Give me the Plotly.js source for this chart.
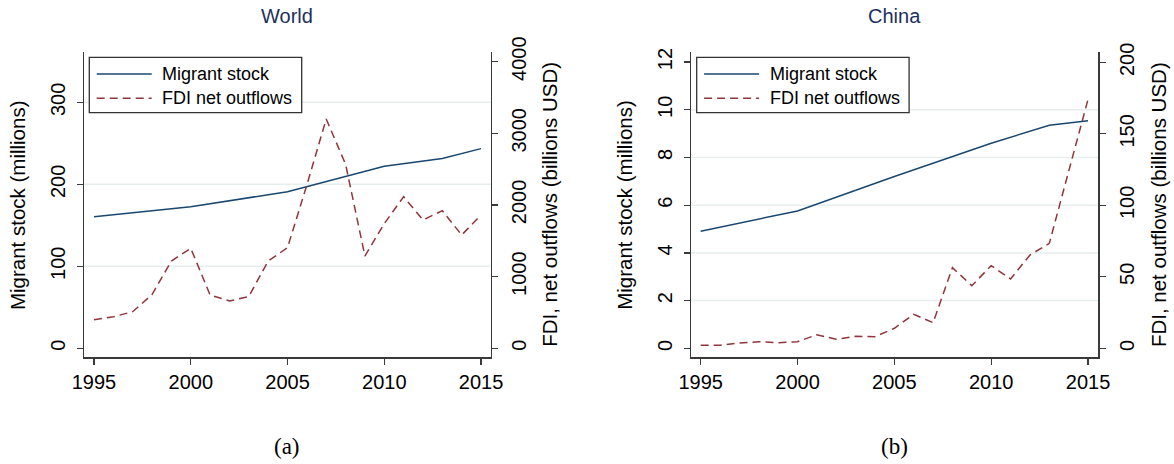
<!DOCTYPE html>
<html>
<head>
<meta charset="utf-8">
<script src="https://cdn.plot.ly/plotly-3.0.1.min.js"></script>
<style>
  html, body { margin: 0; padding: 0; background: #ffffff; }
  #chart { width: 1174px; height: 464px; }
</style>
</head>
<body>
<div id="chart"></div>
<script>
// ---------------- data ----------------
const migrantYears = [1995, 2000, 2005, 2010, 2013, 2015];
const worldMigrant = [160.5, 172.5, 191, 222, 231.5, 243.5];
const chinaMigrant = [4.91, 5.76, 7.2, 8.6, 9.35, 9.54];

const fdiYears = [1995, 1996, 1997, 1998, 1999, 2000, 2001, 2002, 2003, 2004, 2005,
                  2006, 2007, 2008, 2009, 2010, 2011, 2012, 2013, 2014, 2015];
const worldFDI = [400, 440, 511, 750, 1218, 1396, 744, 660, 723, 1218, 1404,
                  2280, 3200, 2570, 1288, 1740, 2116, 1791, 1921, 1581, 1860];
const chinaFDI = [2.1, 2.1, 3.7, 4.6, 3.9, 4.6, 9.5, 6.3, 8.4, 8.1, 14.0,
                  23.8, 17.9, 56.4, 43.8, 57.8, 48.5, 65.2, 73.4, 123.8, 174.1];

const xTicks = [1995, 2000, 2005, 2010, 2015];
const worldLeftTicks = [0, 100, 200, 300];
const worldRightTicks = [0, 1000, 2000, 3000, 4000];
const chinaLeftTicks = [0, 2, 4, 6, 8, 10, 12];
const chinaRightTicks = [0, 50, 100, 150, 200];
const worldGrid = [100, 200, 300];
const chinaGrid = [2, 4, 6, 8, 10];

const seriesNames = ['Migrant stock', 'FDI net outflows'];
const panelTitles = ['World', 'China'];
const captions = ['(a)', '(b)'];
const leftTitle = 'Migrant stock (millions)';
const rightTitle = 'FDI, net outflows (billions USD)';

// ---------------- style ----------------
const W = 1174, H = 464;
const FONT = 'Liberation Sans, Arial, Helvetica, sans-serif';
const NAVY = '#1a476f', MAROON = '#90353b';
const AX = '#3a3a3a';
const GRID = '#e6eeee';
const DASH = '8px,5px';

const px = v => v / W;
const py = v => 1 - v / H;

const plotTop = 52.3, plotBot = 357.3;
const yDom = [py(plotBot), py(plotTop)];
const p1 = [84, 490.7], p2 = [691, 1098.3];

function yAxis(extra) {
  return Object.assign({
    domain: yDom, showgrid: false, zeroline: false,
    showline: true, linecolor: AX, linewidth: 1.3,
    ticks: 'outside', ticklen: 6, tickwidth: 1.3, tickcolor: AX,
    tickangle: -90, tickfont: {family: FONT, size: 20, color: '#000'},
    automargin: false, fixedrange: true, ticklabelstandoff: 4
  }, extra);
}
function xAxis(extra) {
  return Object.assign({
    showgrid: false, zeroline: false,
    showline: true, linecolor: AX, linewidth: 1.3,
    ticks: 'outside', ticklen: 6, tickwidth: 1.3, tickcolor: AX,
    tickvals: xTicks, ticktext: xTicks.map(String),
    tickfont: {family: FONT, size: 20, color: '#000'},
    automargin: false, fixedrange: true
  }, extra);
}

const traces = [
  {x: migrantYears, y: worldMigrant, xaxis: 'x', yaxis: 'y', type: 'scatter', mode: 'lines',
   name: seriesNames[0], line: {color: NAVY, width: 1.5}},
  {x: fdiYears, y: worldFDI, xaxis: 'x', yaxis: 'y2', type: 'scatter', mode: 'lines',
   name: seriesNames[1], line: {color: MAROON, width: 1.5, dash: DASH}},
  {x: migrantYears, y: chinaMigrant, xaxis: 'x2', yaxis: 'y3', type: 'scatter', mode: 'lines',
   name: seriesNames[0], line: {color: NAVY, width: 1.5}},
  {x: fdiYears, y: chinaFDI, xaxis: 'x2', yaxis: 'y4', type: 'scatter', mode: 'lines',
   name: seriesNames[1], line: {color: MAROON, width: 1.5, dash: DASH}}
];

const shapes = [];
worldGrid.forEach(v => shapes.push({type: 'line', xref: 'x domain', yref: 'y', x0: 0, x1: 1, y0: v, y1: v,
  line: {color: GRID, width: 1.5}, layer: 'below'}));
chinaGrid.forEach(v => shapes.push({type: 'line', xref: 'x2 domain', yref: 'y3', x0: 0, x1: 1, y0: v, y1: v,
  line: {color: GRID, width: 1.5}, layer: 'below'}));

function ann(text, x, y, size, extra) {
  return Object.assign({text: text, xref: 'paper', yref: 'paper', x: px(x), y: py(y),
    xanchor: 'center', yanchor: 'middle', showarrow: false,
    font: {family: FONT, size: size, color: '#000'}}, extra || {});
}
const midY = (plotTop + plotBot) / 2;
const annotations = [
  ann(panelTitles[0], (p1[0] + p1[1]) / 2, 16, 20, {font: {family: FONT, size: 20, color: '#1e2f5e'}}),
  ann(panelTitles[1], (p2[0] + p2[1]) / 2, 16, 20, {font: {family: FONT, size: 20, color: '#1e2f5e'}}),
  ann(leftTitle, 18.3, midY, 20.5, {textangle: -90}),
  ann(rightTitle, 550, midY, 20.5, {textangle: -90}),
  ann(leftTitle, 625, midY, 20.5, {textangle: -90}),
  ann(rightTitle, 1158.3, midY, 20.5, {textangle: -90}),
  ann(captions[0], (p1[0] + p1[1]) / 2, 446.7, 23, {font: {family: 'Liberation Serif, Times New Roman, serif', size: 23, color: '#000'}}),
  ann(captions[1], (p2[0] + p2[1]) / 2, 446.7, 23, {font: {family: 'Liberation Serif, Times New Roman, serif', size: 23, color: '#000'}})
];

// legend box (drawn as a key, one per panel)
function addLegend(left) {
  const right = left + 212.4, top = 57.3, bottom = 112.7;
  const rows = [74, 98.3];
  const styles = [{color: NAVY, width: 1.5}, {color: MAROON, width: 1.5, dash: DASH}];
  shapes.push({type: 'rect', xref: 'paper', yref: 'paper', x0: px(left), x1: px(right), y0: py(bottom), y1: py(top),
    line: {color: '#333333', width: 1.3}, fillcolor: '#ffffff', layer: 'above'});
  rows.forEach((ry, i) => {
    shapes.push({type: 'line', xref: 'paper', yref: 'paper', x0: px(left + 7.4), x1: px(left + 62.4),
      y0: py(ry), y1: py(ry), line: styles[i], layer: 'above'});
    annotations.push(ann(seriesNames[i], left + 71, ry, 18, {xanchor: 'left'}));
  });
}
addLegend(89.3);
addLegend(696.7);

const layout = {
  width: W, height: H,
  margin: {l: 0, r: 0, t: 0, b: 0, pad: 0},
  paper_bgcolor: '#ffffff', plot_bgcolor: '#ffffff',
  showlegend: false,
  xaxis: xAxis({domain: [px(p1[0]), px(p1[1])], range: [1994.483, 2015.5], anchor: 'y'}),
  yaxis: yAxis({anchor: 'x', range: [-11, 361], tickvals: worldLeftTicks}),
  yaxis2: yAxis({anchor: 'x', overlaying: 'y', side: 'right', range: [-125.6, 4131], tickvals: worldRightTicks}),
  xaxis2: xAxis({domain: [px(p2[0]), px(p2[1])], range: [1994.5, 2015.53], anchor: 'y3'}),
  yaxis3: yAxis({anchor: 'x2', range: [-0.377, 12.41], tickvals: chinaLeftTicks}),
  yaxis4: yAxis({anchor: 'x2', overlaying: 'y3', side: 'right', range: [-6.29, 207.0], tickvals: chinaRightTicks}),
  shapes: shapes,
  annotations: annotations
};

Plotly.newPlot('chart', traces, layout, {displayModeBar: false, staticPlot: true});
</script>
</body>
</html>
